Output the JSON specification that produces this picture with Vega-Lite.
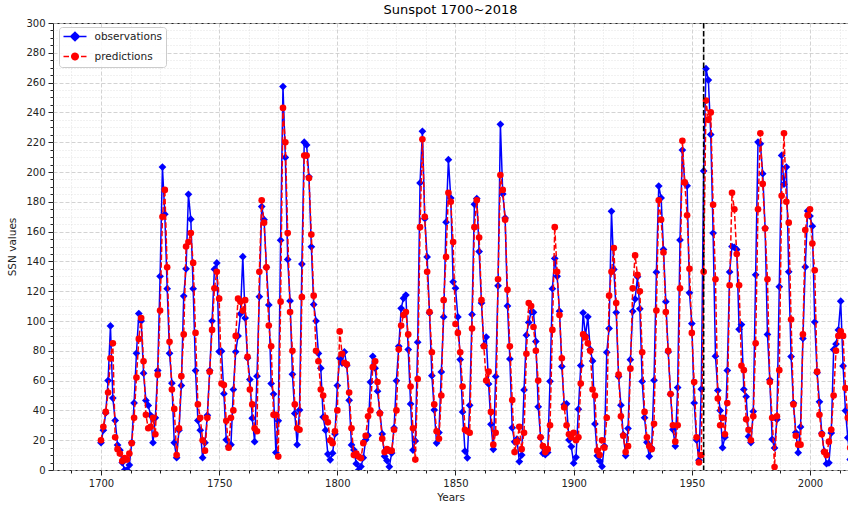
{
"$schema":"https://vega.github.io/schema/vega-lite/v6.json",
"width":795,"height":447,
"autosize":"none",
"padding":{"left":53,"top":23,"right":0,"bottom":36},
"title":{"text":"Sunspot 1700~2018","fontSize":13,"fontWeight":"normal","font":"DejaVu Sans","color":"#000","offset":1,"anchor":"middle"},
"data":{"values":[
{"year":1700,"obs":18.3,"pred":20},{"year":1701,"obs":26.7,"pred":29},{"year":1702,"obs":38.3,"pred":39},{"year":1703,"obs":60.0,"pred":52},{"year":1704,"obs":96.7,"pred":75},{"year":1705,"obs":48.3,"pred":85},{"year":1706,"obs":33.3,"pred":22},{"year":1707,"obs":16.7,"pred":14},{"year":1708,"obs":13.3,"pred":11},{"year":1709,"obs":5.0,"pred":6},
{"year":1710,"obs":0.0,"pred":8},{"year":1711,"obs":0.0,"pred":7},{"year":1712,"obs":3.3,"pred":11},{"year":1713,"obs":18.3,"pred":18},{"year":1714,"obs":45.0,"pred":35},{"year":1715,"obs":78.3,"pred":62},{"year":1716,"obs":105.0,"pred":88},{"year":1717,"obs":100.0,"pred":102},{"year":1718,"obs":65.0,"pred":73},{"year":1719,"obs":46.7,"pred":37},
{"year":1720,"obs":43.3,"pred":28},{"year":1721,"obs":36.7,"pred":29},{"year":1722,"obs":18.3,"pred":35},{"year":1723,"obs":35.0,"pred":24},{"year":1724,"obs":66.7,"pred":64},{"year":1725,"obs":130.0,"pred":107},{"year":1726,"obs":203.3,"pred":170},{"year":1727,"obs":171.7,"pred":188},{"year":1728,"obs":121.7,"pred":136},{"year":1729,"obs":78.3,"pred":86},
{"year":1730,"obs":58.3,"pred":54},{"year":1731,"obs":18.3,"pred":41},{"year":1732,"obs":8.3,"pred":10},{"year":1733,"obs":26.7,"pred":28},{"year":1734,"obs":56.7,"pred":63},{"year":1735,"obs":116.7,"pred":91},{"year":1736,"obs":135.0,"pred":150},{"year":1737,"obs":185.0,"pred":153},{"year":1738,"obs":168.3,"pred":159},{"year":1739,"obs":121.7,"pred":139},
{"year":1740,"obs":66.7,"pred":92},{"year":1741,"obs":33.3,"pred":44},{"year":1742,"obs":26.7,"pred":35},{"year":1743,"obs":8.3,"pred":20},{"year":1744,"obs":18.3,"pred":13},{"year":1745,"obs":36.7,"pred":35},{"year":1746,"obs":66.7,"pred":66},{"year":1747,"obs":100.0,"pred":94},{"year":1748,"obs":134.8,"pred":122},{"year":1749,"obs":139.0,"pred":133},
{"year":1750,"obs":79.5,"pred":115},{"year":1751,"obs":79.7,"pred":58},{"year":1752,"obs":51.2,"pred":57},{"year":1753,"obs":20.3,"pred":33},{"year":1754,"obs":16.0,"pred":15},{"year":1755,"obs":17.0,"pred":35},{"year":1756,"obs":54.0,"pred":40},{"year":1757,"obs":79.3,"pred":90},{"year":1758,"obs":90.0,"pred":115},{"year":1759,"obs":104.8,"pred":113},
{"year":1760,"obs":143.2,"pred":107},{"year":1761,"obs":102.0,"pred":114},{"year":1762,"obs":75.2,"pred":76},{"year":1763,"obs":60.7,"pred":54},{"year":1764,"obs":34.8,"pred":44},{"year":1765,"obs":19.0,"pred":28},{"year":1766,"obs":63.0,"pred":26},{"year":1767,"obs":116.3,"pred":133},{"year":1768,"obs":176.8,"pred":181},{"year":1769,"obs":168.0,"pred":166},
{"year":1770,"obs":136.0,"pred":136},{"year":1771,"obs":110.8,"pred":97},{"year":1772,"obs":58.0,"pred":83},{"year":1773,"obs":51.0,"pred":37},{"year":1774,"obs":11.7,"pred":37},{"year":1775,"obs":33.0,"pred":9},{"year":1776,"obs":154.2,"pred":113},{"year":1777,"obs":257.3,"pred":243},{"year":1778,"obs":209.8,"pred":220},{"year":1779,"obs":141.3,"pred":159},
{"year":1780,"obs":113.5,"pred":106},{"year":1781,"obs":64.2,"pred":80},{"year":1782,"obs":38.0,"pred":44},{"year":1783,"obs":17.0,"pred":28},{"year":1784,"obs":40.2,"pred":27},{"year":1785,"obs":138.2,"pred":116},{"year":1786,"obs":220.0,"pred":211},{"year":1787,"obs":218.2,"pred":211},{"year":1788,"obs":196.8,"pred":196},{"year":1789,"obs":149.8,"pred":158},
{"year":1790,"obs":111.0,"pred":117},{"year":1791,"obs":100.0,"pred":80},{"year":1792,"obs":78.2,"pred":73},{"year":1793,"obs":68.3,"pred":54},{"year":1794,"obs":35.5,"pred":50},{"year":1795,"obs":26.7,"pred":35},{"year":1796,"obs":10.7,"pred":32},{"year":1797,"obs":6.8,"pred":20},{"year":1798,"obs":11.3,"pred":18},{"year":1799,"obs":24.2,"pred":26},
{"year":1800,"obs":56.7,"pred":40},{"year":1801,"obs":75.0,"pred":93},{"year":1802,"obs":71.8,"pred":78},{"year":1803,"obs":79.2,"pred":72},{"year":1804,"obs":70.3,"pred":71},{"year":1805,"obs":46.8,"pred":52},{"year":1806,"obs":16.8,"pred":28},{"year":1807,"obs":13.5,"pred":10},{"year":1808,"obs":4.2,"pred":11},{"year":1809,"obs":0.0,"pred":9},
{"year":1810,"obs":2.3,"pred":8},{"year":1811,"obs":8.3,"pred":18},{"year":1812,"obs":20.3,"pred":23},{"year":1813,"obs":23.2,"pred":36},{"year":1814,"obs":59.0,"pred":40},{"year":1815,"obs":76.3,"pred":69},{"year":1816,"obs":68.3,"pred":73},{"year":1817,"obs":52.9,"pred":59},{"year":1818,"obs":38.5,"pred":38},{"year":1819,"obs":24.2,"pred":21},
{"year":1820,"obs":9.2,"pred":12},{"year":1821,"obs":6.3,"pred":14},{"year":1822,"obs":2.2,"pred":13},{"year":1823,"obs":11.4,"pred":13},{"year":1824,"obs":28.2,"pred":27},{"year":1825,"obs":59.9,"pred":40},{"year":1826,"obs":83.0,"pred":81},{"year":1827,"obs":108.5,"pred":97},{"year":1828,"obs":115.2,"pred":104},{"year":1829,"obs":117.4,"pred":106},
{"year":1830,"obs":80.8,"pred":91},{"year":1831,"obs":44.3,"pred":56},{"year":1832,"obs":13.4,"pred":28},{"year":1833,"obs":19.5,"pred":7},{"year":1834,"obs":85.8,"pred":61},{"year":1835,"obs":192.7,"pred":163},{"year":1836,"obs":227.3,"pred":222},{"year":1837,"obs":168.7,"pred":170},{"year":1838,"obs":143.0,"pred":133},{"year":1839,"obs":105.5,"pred":106},
{"year":1840,"obs":63.3,"pred":79},{"year":1841,"obs":40.3,"pred":44},{"year":1842,"obs":18.1,"pred":26},{"year":1843,"obs":25.1,"pred":21},{"year":1844,"obs":65.8,"pred":50},{"year":1845,"obs":102.7,"pred":114},{"year":1846,"obs":166.3,"pred":143},{"year":1847,"obs":208.3,"pred":186},{"year":1848,"obs":182.5,"pred":180},{"year":1849,"obs":126.3,"pred":153},
{"year":1850,"obs":122.0,"pred":98},{"year":1851,"obs":102.7,"pred":92},{"year":1852,"obs":74.1,"pred":79},{"year":1853,"obs":39.0,"pred":56},{"year":1854,"obs":12.7,"pred":27},{"year":1855,"obs":8.2,"pred":26},{"year":1856,"obs":43.4,"pred":25},{"year":1857,"obs":104.4,"pred":95},{"year":1858,"obs":178.3,"pred":163},{"year":1859,"obs":182.2,"pred":181},
{"year":1860,"obs":146.6,"pred":156},{"year":1861,"obs":112.1,"pred":114},{"year":1862,"obs":83.5,"pred":83},{"year":1863,"obs":89.2,"pred":60},{"year":1864,"obs":57.8,"pred":66},{"year":1865,"obs":30.7,"pred":39},{"year":1866,"obs":13.9,"pred":17},{"year":1867,"obs":62.8,"pred":25},{"year":1868,"obs":123.6,"pred":128},{"year":1869,"obs":232.0,"pred":198},
{"year":1870,"obs":185.3,"pred":188},{"year":1871,"obs":169.2,"pred":168},{"year":1872,"obs":110.1,"pred":121},{"year":1873,"obs":74.5,"pred":83},{"year":1874,"obs":28.3,"pred":47},{"year":1875,"obs":18.9,"pred":12},{"year":1876,"obs":20.7,"pred":19},{"year":1877,"obs":5.7,"pred":29},{"year":1878,"obs":10.0,"pred":14},{"year":1879,"obs":53.7,"pred":25},
{"year":1880,"obs":90.5,"pred":78},{"year":1881,"obs":99.0,"pred":112},{"year":1882,"obs":106.1,"pred":110},{"year":1883,"obs":105.8,"pred":96},{"year":1884,"obs":86.3,"pred":80},{"year":1885,"obs":42.4,"pred":60},{"year":1886,"obs":21.8,"pred":22},{"year":1887,"obs":11.2,"pred":16},{"year":1888,"obs":10.4,"pred":12},{"year":1889,"obs":11.8,"pred":14},
{"year":1890,"obs":59.5,"pred":30},{"year":1891,"obs":121.7,"pred":94},{"year":1892,"obs":142.0,"pred":163},{"year":1893,"obs":130.0,"pred":133},{"year":1894,"obs":106.6,"pred":104},{"year":1895,"obs":69.4,"pred":75},{"year":1896,"obs":43.8,"pred":42},{"year":1897,"obs":44.4,"pred":30},{"year":1898,"obs":20.2,"pred":24},{"year":1899,"obs":15.7,"pred":22},
{"year":1900,"obs":4.6,"pred":25},{"year":1901,"obs":8.5,"pred":20},{"year":1902,"obs":40.8,"pred":22},{"year":1903,"obs":70.1,"pred":58},{"year":1904,"obs":105.5,"pred":91},{"year":1905,"obs":90.1,"pred":89},{"year":1906,"obs":102.8,"pred":85},{"year":1907,"obs":80.9,"pred":80},{"year":1908,"obs":73.2,"pred":54},{"year":1909,"obs":30.9,"pred":50},
{"year":1910,"obs":9.5,"pred":13},{"year":1911,"obs":6.0,"pred":10},{"year":1912,"obs":2.4,"pred":20},{"year":1913,"obs":16.1,"pred":15},{"year":1914,"obs":79.0,"pred":35},{"year":1915,"obs":95.0,"pred":117},{"year":1916,"obs":173.6,"pred":133},{"year":1917,"obs":134.6,"pred":149},{"year":1918,"obs":105.7,"pred":112},{"year":1919,"obs":62.7,"pred":64},
{"year":1920,"obs":43.5,"pred":36},{"year":1921,"obs":23.7,"pred":23},{"year":1922,"obs":9.7,"pred":12},{"year":1923,"obs":27.9,"pred":16},{"year":1924,"obs":74.0,"pred":68},{"year":1925,"obs":106.5,"pred":122},{"year":1926,"obs":114.7,"pred":144},{"year":1927,"obs":129.7,"pred":131},{"year":1928,"obs":108.2,"pred":120},{"year":1929,"obs":59.4,"pred":79},
{"year":1930,"obs":35.1,"pred":39},{"year":1931,"obs":18.6,"pred":22},{"year":1932,"obs":9.2,"pred":16},{"year":1933,"obs":14.6,"pred":14},{"year":1934,"obs":60.2,"pred":31},{"year":1935,"obs":132.8,"pred":107},{"year":1936,"obs":190.6,"pred":181},{"year":1937,"obs":182.6,"pred":168},{"year":1938,"obs":148.0,"pred":146},{"year":1939,"obs":113.0,"pred":106},
{"year":1940,"obs":79.2,"pred":80},{"year":1941,"obs":50.8,"pred":51},{"year":1942,"obs":27.1,"pred":30},{"year":1943,"obs":16.1,"pred":19},{"year":1944,"obs":55.3,"pred":30},{"year":1945,"obs":154.3,"pred":122},{"year":1946,"obs":214.7,"pred":221},{"year":1947,"obs":193.0,"pred":193},{"year":1948,"obs":190.7,"pred":171},{"year":1949,"obs":118.9,"pred":135},
{"year":1950,"obs":98.3,"pred":92},{"year":1951,"obs":45.0,"pred":59},{"year":1952,"obs":20.1,"pred":22},{"year":1953,"obs":6.6,"pred":5},{"year":1954,"obs":54.2,"pred":10},{"year":1955,"obs":200.7,"pred":133},{"year":1956,"obs":269.3,"pred":248},{"year":1957,"obs":261.7,"pred":235},{"year":1958,"obs":225.1,"pred":240},{"year":1959,"obs":159.0,"pred":178},
{"year":1960,"obs":76.4,"pred":128},{"year":1961,"obs":53.4,"pred":48},{"year":1962,"obs":39.9,"pred":30},{"year":1963,"obs":15.0,"pred":35},{"year":1964,"obs":22.0,"pred":24},{"year":1965,"obs":66.8,"pred":45},{"year":1966,"obs":132.9,"pred":124},{"year":1967,"obs":150.0,"pred":186},{"year":1968,"obs":149.4,"pred":175},{"year":1969,"obs":148.0,"pred":145},
{"year":1970,"obs":94.4,"pred":124},{"year":1971,"obs":97.6,"pred":70},{"year":1972,"obs":54.1,"pred":67},{"year":1973,"obs":49.2,"pred":34},{"year":1974,"obs":22.5,"pred":27},{"year":1975,"obs":18.4,"pred":20},{"year":1976,"obs":39.3,"pred":36},{"year":1977,"obs":131.0,"pred":85},{"year":1978,"obs":220.1,"pred":175},{"year":1979,"obs":218.9,"pred":226},
{"year":1980,"obs":198.9,"pred":192},{"year":1981,"obs":162.4,"pred":162},{"year":1982,"obs":91.0,"pred":128},{"year":1983,"obs":60.5,"pred":59},{"year":1984,"obs":20.6,"pred":35},{"year":1985,"obs":14.8,"pred":2},{"year":1986,"obs":33.9,"pred":36},{"year":1987,"obs":123.0,"pred":67},{"year":1988,"obs":211.1,"pred":184},{"year":1989,"obs":191.8,"pred":226},
{"year":1990,"obs":203.3,"pred":180},{"year":1991,"obs":133.0,"pred":166},{"year":1992,"obs":76.1,"pred":101},{"year":1993,"obs":44.9,"pred":44},{"year":1994,"obs":25.1,"pred":23},{"year":1995,"obs":11.6,"pred":17},{"year":1996,"obs":28.9,"pred":17},{"year":1997,"obs":88.3,"pred":91},{"year":1998,"obs":136.3,"pred":161},{"year":1999,"obs":173.9,"pred":171},
{"year":2000,"obs":170.4,"pred":175},{"year":2001,"obs":163.6,"pred":152},{"year":2002,"obs":99.3,"pred":134},{"year":2003,"obs":65.3,"pred":66},{"year":2004,"obs":45.8,"pred":37},{"year":2005,"obs":24.7,"pred":24},{"year":2006,"obs":12.6,"pred":12},{"year":2007,"obs":4.2,"pred":10},{"year":2008,"obs":4.8,"pred":19},{"year":2009,"obs":24.9,"pred":27},
{"year":2010,"obs":80.8,"pred":50},{"year":2011,"obs":84.5,"pred":80},{"year":2012,"obs":94.0,"pred":90},{"year":2013,"obs":113.3,"pred":93},{"year":2014,"obs":69.8,"pred":90},{"year":2015,"obs":39.8,"pred":55},{"year":2016,"obs":21.7,"pred":35},{"year":2017,"obs":7.0,"pred":15}
]},
"layer":[
{"mark":{"type":"line","strokeWidth":1.5,"clip":true},
 "encoding":{
  "x":{"field":"year","type":"quantitative","scale":{"domain":[1679.69,2016.08],"nice":false,"zero":false},
       "axis":{"orient":"bottom","values":[1700,1750,1800,1850,1900,1950,2000],"format":"d","grid":true,"gridColor":"#c8c8c8","gridDash":[4,2],"gridWidth":0.8,"tickSize":5,"labelPadding":3,"title":"Years","titlePadding":4}},
  "y":{"field":"obs","type":"quantitative","scale":{"domain":[0,300],"nice":false,"zero":true},
       "axis":{"orient":"left","values":[0,20,40,60,80,100,120,140,160,180,200,220,240,260,280,300],"format":"d","grid":true,"gridColor":"#c8c8c8","gridDash":[4,2],"gridWidth":0.8,"tickSize":5,"labelPadding":3,"title":"SSN values","titlePadding":8}},
  "color":{"datum":"observations","type":"nominal","scale":{"domain":["observations","predictions"],"range":["#0000ff","#ff0000"]},
     "legend":{"orient":"none","legendX":6,"legendY":4,"title":null,"labelFontSize":10.5,"labelFont":"DejaVu Sans","labelColor":"#222","labelOffset":20,"rowPadding":5,"padding":3.5,"strokeColor":"#cccccc","fillColor":"rgba(255,255,255,0.85)","cornerRadius":3,
       "symbolSize":100,
       "symbolType":{"expr":"datum.value === 'observations' ? 'M-1,0H3.6M1.3,-0.85L2.15,0L1.3,0.85L0.45,0Z' : 'M-1,0H0.1M2.5,0H3.6M0.65,0A0.65,0.65 0 1,0 1.95,0A0.65,0.65 0 1,0 0.65,0Z'"},
       "symbolFillColor":{"expr":"datum.value === 'observations' ? '#0000ff' : '#ff0000'"},
       "symbolStrokeColor":{"expr":"datum.value === 'observations' ? '#0000ff' : '#ff0000'"},
       "symbolStrokeWidth":1.5,
       "symbolDash":[1,0],
       "symbolOpacity":1}}
 }},
{"mark":{"type":"point","shape":"diamond","filled":true,"size":60,"opacity":1,"clip":true},
 "encoding":{
  "x":{"field":"year","type":"quantitative",
       "axis":{"orient":"bottom","values":[1687.5,1712.5,1725,1737.5,1762.5,1775,1787.5,1812.5,1825,1837.5,1862.5,1875,1887.5,1912.5,1925,1937.5,1962.5,1975,1987.5,2012.5],"labels":false,"grid":true,"gridColor":"#dadada","gridDash":[1,2],"gridWidth":0.8,"tickSize":3,"title":null}},
  "y":{"field":"obs","type":"quantitative",
       "axis":{"orient":"left","values":[5,10,15,25,30,35,45,50,55,65,70,75,85,90,95,105,110,115,125,130,135,145,150,155,165,170,175,185,190,195,205,210,215,225,230,235,245,250,255,265,270,275,285,290,295],"labels":false,"grid":true,"gridColor":"#dadada","gridDash":[1,2],"gridWidth":0.8,"tickSize":3,"title":null}},
  "color":{"datum":"observations","type":"nominal"}
 }},
{"mark":{"type":"line","strokeWidth":1.5,"strokeDash":[5.5,2.4],"clip":true},
 "encoding":{
  "x":{"field":"year","type":"quantitative","axis":null},
  "y":{"field":"pred","type":"quantitative","axis":null},
  "color":{"datum":"predictions","type":"nominal"}
 }},
{"mark":{"type":"point","shape":"circle","filled":true,"size":44,"opacity":1,"clip":true},
 "encoding":{
  "x":{"field":"year","type":"quantitative","axis":null},
  "y":{"field":"pred","type":"quantitative","axis":null},
  "color":{"datum":"predictions","type":"nominal"}
 }},
{"data":{"values":[{"year":1955}]},
 "mark":{"type":"rule","color":"#000","strokeWidth":1.6,"strokeDash":[5.5,2.4]},
 "encoding":{"x":{"field":"year","type":"quantitative","axis":null}}}
],
"resolve":{"axis":{"x":"independent","y":"independent"}},
"config":{
 "view":{"stroke":"#222","strokeWidth":1},
 "font":"DejaVu Sans",
 "axis":{"labelFont":"DejaVu Sans","titleFont":"DejaVu Sans","labelFontSize":10,"titleFontSize":10.5,"labelColor":"#222","titleColor":"#222","titleFontWeight":"normal","tickColor":"#222","domain":false,"labelFlush":false,"labelOverlap":false}
}
}
